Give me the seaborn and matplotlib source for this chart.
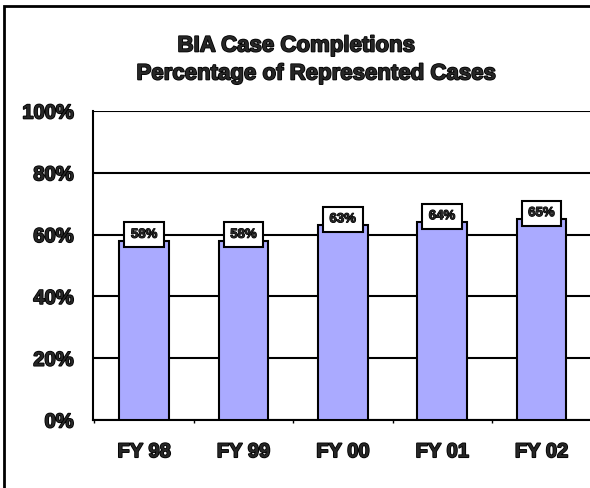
import seaborn as sns
import matplotlib.pyplot as plt
import matplotlib.patheffects as pe
import pandas as pd
from matplotlib.patches import Rectangle

### data
years = ["FY 98", "FY 99", "FY 00", "FY 01", "FY 02"]
pct = [58, 58, 63, 64, 65]
yticks = [0, 20, 40, 60, 80, 100]

df = pd.DataFrame({"Year": years, "Pct": pct})

sns.set_style("white")
plt.rcParams['font.family'] = ['Liberation Sans', 'DejaVu Sans']
plt.rcParams['font.weight'] = 'bold'

heavy = [pe.withStroke(linewidth=1.2, foreground='black')]

fig = plt.figure(figsize=(5.9, 4.89), dpi=100)
ax = fig.add_axes([93/590, (489-421)/489, (590-93)/590 + 0.002, (421-112)/489])

sns.barplot(x='Year', y='Pct', data=df, color='#AAAAFF', width=0.5,
            edgecolor='black', linewidth=1.5, saturation=1, ax=ax, zorder=3)

ax.set_ylim(0, 100)
ax.set_xlim(-0.515, 4.5)
ax.set_yticks(yticks)
ax.set_yticklabels([f"{v}%" for v in yticks], fontsize=14.5, fontweight='bold')
ax.set_xticks(range(len(years)))
ax.set_xticklabels(years, fontsize=14.5, fontweight='bold')
ax.set_xticks([i + 0.5 for i in range(-1, len(years))], minor=True)
ax.set_xlabel('')
ax.set_ylabel('')
for lab in ax.get_xticklabels() + ax.get_yticklabels():
    lab.set_path_effects(heavy)

ax.yaxis.grid(True, color='black', linewidth=1.5, zorder=0)
ax.set_axisbelow(True)
for s in ['top', 'right']:
    ax.spines[s].set_visible(False)
for s in ['left', 'bottom']:
    ax.spines[s].set_color('black')
    ax.spines[s].set_linewidth(1.5)
ax.tick_params(axis='both', which='major', length=11, width=1.2, color='black',
               direction='out', pad=3)
ax.tick_params(axis='x', which='minor', length=2, width=1, color='black', bottom=True)
ax.tick_params(axis='x', pad=5)

# value boxes on top of each bar
for i, v in enumerate(pct):
    t = ax.text(i, v, f"{v}%", ha='center', va='bottom', fontsize=9.5, fontweight='bold',
                zorder=5,
                bbox=dict(boxstyle='square,pad=0.5', facecolor='white',
                          edgecolor='black', linewidth=1.5))
    t.set_path_effects([pe.withStroke(linewidth=0.8, foreground='black')])

# title, two lines
fig.text(296/590, 1 - 47/489, "BIA Case Completions", ha='center', va='center',
         fontsize=16, fontweight='bold', path_effects=heavy)
fig.text(316/590, 1 - 75/489, "Percentage of Represented Cases", ha='center', va='center',
         fontsize=16, fontweight='bold', path_effects=heavy)

# outer frame (cut off on the right and bottom)
fig.patches.append(Rectangle((4/590, -0.1), 1.2, 1 - 7/489 + 0.1, transform=fig.transFigure,
                             fill=False, edgecolor='black', linewidth=2))

fig.savefig('out.png', dpi=100)
